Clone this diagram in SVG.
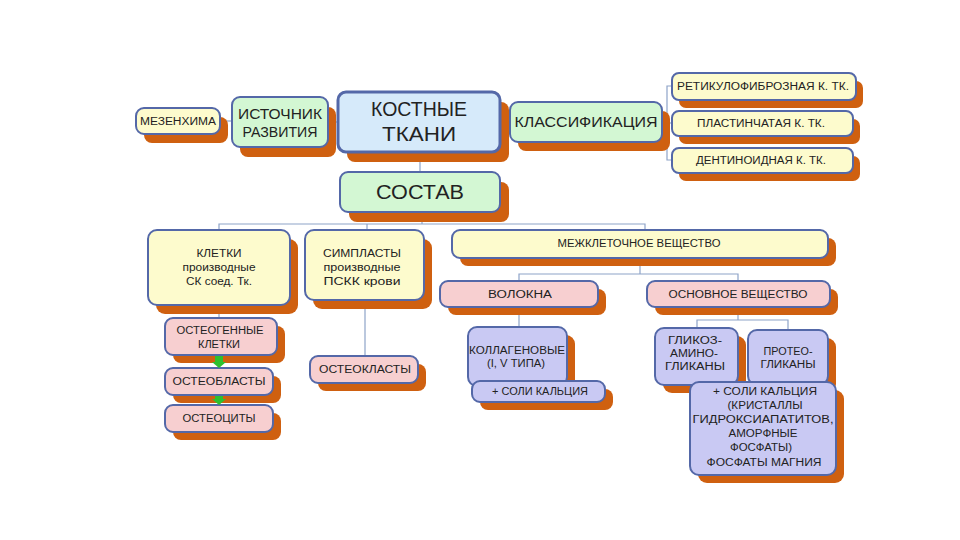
<svg xmlns="http://www.w3.org/2000/svg" width="960" height="540" viewBox="0 0 960 540">
<style>
  .sh { fill: #cf6010; }
  .bx { stroke: #5468a8; stroke-width: 2; }
  .big { stroke-width: 3; }
  .y { fill: #fdfbcd; }
  .g { fill: #d3f7d3; }
  .b { fill: #d6eafa; }
  .p { fill: #f7cfd0; }
  .l { fill: #c9c9f3; }
  text { font-family: "Liberation Sans", "DejaVu Sans", sans-serif; fill: #222; text-anchor: middle; }
  .t9 { font-size: 10px; }
  .conn line, .conn polyline { stroke: #8ea3c8; stroke-width: 1.2; fill: none; }
  .arr { fill: #2ec02e; }
</style>
<rect width="960" height="540" fill="#ffffff"/>

<g class="conn" id="connectors">
  <line x1="220" y1="121" x2="232" y2="121"/>
  <line x1="328" y1="122" x2="338" y2="122"/>
  <line x1="500" y1="122" x2="510" y2="122"/>
  <line x1="662" y1="122" x2="667" y2="122"/>
  <polyline points="672,86 667,86 667,160 672,160"/>
  <line x1="667" y1="123" x2="672" y2="123"/>
  <line x1="420" y1="152" x2="420" y2="172"/>
  <line x1="422" y1="212" x2="422" y2="224"/>
  <polyline points="219,230 219,224 645,224 645,230"/>
  <line x1="367" y1="224" x2="367" y2="230"/>
  <line x1="219" y1="305" x2="219" y2="318"/>
  <line x1="365" y1="300" x2="365" y2="356"/>
  <line x1="640" y1="258" x2="640" y2="274"/>
  <polyline points="519,281 519,274 738,274 738,281"/>
  <line x1="519" y1="307" x2="519" y2="327"/>
  <line x1="738" y1="307" x2="738" y2="320"/>
  <polyline points="697,328 697,320 788,320 788,330"/>
</g>

<g id="mezenhima">
  <rect class="sh" x="144" y="117" width="84" height="26" rx="8"/>
  <rect class="bx y" x="136" y="108" width="84" height="26" rx="8"/>
  <text class="t9" x="178" y="124.5" textLength="76" lengthAdjust="spacingAndGlyphs">МЕЗЕНХИМА</text>
</g>
<g id="istochnik">
  <rect class="sh" x="240" y="107" width="96" height="50" rx="8"/>
  <rect class="bx g" x="232" y="97" width="96" height="50" rx="8"/>
  <text x="280" y="119" font-size="14" textLength="84" lengthAdjust="spacingAndGlyphs">ИСТОЧНИК</text>
  <text x="280" y="137" font-size="14" textLength="75" lengthAdjust="spacingAndGlyphs">РАЗВИТИЯ</text>
</g>
<g id="kostnye">
  <rect class="sh" x="347" y="102" width="162" height="60" rx="8"/>
  <rect class="bx b big" x="338" y="92" width="162" height="60" rx="8"/>
  <text x="419" y="116" font-size="20" textLength="96" lengthAdjust="spacingAndGlyphs">КОСТНЫЕ</text>
  <text x="419" y="141" font-size="20" textLength="74" lengthAdjust="spacingAndGlyphs">ТКАНИ</text>
</g>
<g id="klassifikacia">
  <rect class="sh" x="518" y="111" width="152" height="40" rx="8"/>
  <rect class="bx g" x="510" y="102" width="152" height="40" rx="8"/>
  <text x="586" y="127" font-size="14" textLength="143" lengthAdjust="spacingAndGlyphs">КЛАССИФИКАЦИЯ</text>
</g>
<g id="retikulo">
  <rect class="sh" x="679" y="81" width="184" height="27" rx="7"/>
  <rect class="bx y" x="672" y="73" width="184" height="27" rx="7"/>
  <text class="t9" x="763" y="90" textLength="172" lengthAdjust="spacingAndGlyphs">РЕТИКУЛОФИБРОЗНАЯ К. ТК.</text>
</g>
<g id="plastinchataya">
  <rect class="sh" x="679" y="119" width="181" height="25" rx="7"/>
  <rect class="bx y" x="672" y="111" width="181" height="25" rx="7"/>
  <text class="t9" x="761" y="127" textLength="128" lengthAdjust="spacingAndGlyphs">ПЛАСТИНЧАТАЯ К. ТК.</text>
</g>
<g id="dentinoidnaya">
  <rect class="sh" x="679" y="156" width="181" height="25" rx="7"/>
  <rect class="bx y" x="672" y="148" width="181" height="25" rx="7"/>
  <text class="t9" x="761" y="164" textLength="130" lengthAdjust="spacingAndGlyphs">ДЕНТИНОИДНАЯ К. ТК.</text>
</g>
<g id="sostav">
  <rect class="sh" x="349" y="182" width="160" height="40" rx="8"/>
  <rect class="bx g" x="340" y="172" width="160" height="40" rx="8"/>
  <text x="420" y="199" font-size="20" textLength="88" lengthAdjust="spacingAndGlyphs">СОСТАВ</text>
</g>
<g id="kletki">
  <rect class="sh" x="156" y="239" width="142" height="75" rx="9"/>
  <rect class="bx y" x="148" y="230" width="142" height="75" rx="9"/>
  <text class="t9" x="219" y="257" textLength="45" lengthAdjust="spacingAndGlyphs">КЛЕТКИ</text>
  <text class="t9" x="219" y="271" textLength="73" lengthAdjust="spacingAndGlyphs">производные</text>
  <text class="t9" x="219" y="285" textLength="66" lengthAdjust="spacingAndGlyphs">СК соед. Тк.</text>
</g>
<g id="simplasty">
  <rect class="sh" x="313" y="239" width="119" height="70" rx="9"/>
  <rect class="bx y" x="305" y="230" width="119" height="70" rx="9"/>
  <text class="t9" x="362" y="257" textLength="78" lengthAdjust="spacingAndGlyphs">СИМПЛАСТЫ</text>
  <text class="t9" x="362" y="271" textLength="77" lengthAdjust="spacingAndGlyphs">производные</text>
  <text class="t9" x="362" y="285" textLength="77" lengthAdjust="spacingAndGlyphs">ПСКК крови</text>
</g>
<g id="mezhkletochnoe">
  <rect class="sh" x="460" y="238" width="376" height="28" rx="8"/>
  <rect class="bx y" x="452" y="230" width="376" height="28" rx="8"/>
  <text class="t9" x="639" y="247" textLength="163" lengthAdjust="spacingAndGlyphs">МЕЖКЛЕТОЧНОЕ ВЕЩЕСТВО</text>
</g>
<g id="volokna">
  <rect class="sh" x="448" y="289" width="158" height="26" rx="8"/>
  <rect class="bx p" x="440" y="281" width="158" height="26" rx="8"/>
  <text class="t9" x="520" y="298" textLength="64" lengthAdjust="spacingAndGlyphs">ВОЛОКНА</text>
</g>
<g id="osnovnoe">
  <rect class="sh" x="655" y="289" width="183" height="26" rx="8"/>
  <rect class="bx p" x="647" y="281" width="183" height="26" rx="8"/>
  <text class="t9" x="738" y="298" textLength="139" lengthAdjust="spacingAndGlyphs">ОСНОВНОЕ ВЕЩЕСТВО</text>
</g>
<g id="osteogennye">
  <rect class="sh" x="173" y="326" width="112" height="37" rx="8"/>
  <rect class="bx p" x="165" y="318" width="112" height="37" rx="8"/>
  <text class="t9" x="220" y="334" textLength="87" lengthAdjust="spacingAndGlyphs">ОСТЕОГЕННЫЕ</text>
  <text class="t9" x="219" y="348" textLength="42" lengthAdjust="spacingAndGlyphs">КЛЕТКИ</text>
</g>
<g id="osteoblasty">
  <rect class="sh" x="173" y="376" width="108" height="27" rx="8"/>
  <rect class="bx p" x="165" y="368" width="108" height="27" rx="8"/>
  <text class="t9" x="219" y="385" textLength="93" lengthAdjust="spacingAndGlyphs">ОСТЕОБЛАСТЫ</text>
</g>
<g id="osteocity">
  <rect class="sh" x="173" y="413" width="108" height="27" rx="8"/>
  <rect class="bx p" x="165" y="405" width="108" height="27" rx="8"/>
  <text class="t9" x="219" y="422" textLength="73" lengthAdjust="spacingAndGlyphs">ОСТЕОЦИТЫ</text>
</g>
<g id="osteoklasty">
  <rect class="sh" x="318" y="364" width="108" height="27" rx="8"/>
  <rect class="bx p" x="310" y="356" width="108" height="27" rx="8"/>
  <text class="t9" x="365" y="373" textLength="92" lengthAdjust="spacingAndGlyphs">ОСТЕОКЛАСТЫ</text>
</g>
<g id="kollagenovye">
  <rect class="sh" x="476" y="335" width="99" height="59" rx="9"/>
  <rect class="bx l" x="468" y="327" width="99" height="59" rx="9"/>
  <text class="t9" x="517" y="354" textLength="96" lengthAdjust="spacingAndGlyphs">КОЛЛАГЕНОВЫЕ</text>
  <text class="t9" x="516" y="367" textLength="58" lengthAdjust="spacingAndGlyphs">(I, V ТИПА)</text>
</g>
<g id="soli1">
  <rect class="sh" x="480" y="389" width="133" height="21" rx="8"/>
  <rect class="bx l" x="472" y="381" width="133" height="21" rx="8"/>
  <text class="t9" x="540" y="395" textLength="96" lengthAdjust="spacingAndGlyphs">+ СОЛИ КАЛЬЦИЯ</text>
</g>
<g id="glikozaminoglikany">
  <rect class="sh" x="663" y="336" width="83" height="57" rx="9"/>
  <rect class="bx l" x="655" y="328" width="83" height="57" rx="9"/>
  <text class="t9" x="695" y="344" textLength="54" lengthAdjust="spacingAndGlyphs">ГЛИКОЗ-</text>
  <text class="t9" x="694" y="357" textLength="48" lengthAdjust="spacingAndGlyphs">АМИНО-</text>
  <text class="t9" x="695" y="370" textLength="60" lengthAdjust="spacingAndGlyphs">ГЛИКАНЫ</text>
</g>
<g id="proteoglikany">
  <rect class="sh" x="756" y="338" width="80" height="55" rx="9"/>
  <rect class="bx l" x="748" y="330" width="80" height="55" rx="9"/>
  <text class="t9" x="788" y="355" textLength="49" lengthAdjust="spacingAndGlyphs">ПРОТЕО-</text>
  <text class="t9" x="788" y="368" textLength="55" lengthAdjust="spacingAndGlyphs">ГЛИКАНЫ</text>
</g>
<g id="soli2">
  <rect class="sh" x="698" y="390" width="146" height="93" rx="9"/>
  <rect class="bx l" x="690" y="382" width="146" height="93" rx="9"/>
  <text class="t9" x="765" y="395" textLength="104" lengthAdjust="spacingAndGlyphs">+ СОЛИ КАЛЬЦИЯ</text>
  <text class="t9" x="765" y="409" textLength="75" lengthAdjust="spacingAndGlyphs">(КРИСТАЛЛЫ</text>
  <text class="t9" x="763" y="423" textLength="141" lengthAdjust="spacingAndGlyphs">ГИДРОКСИАПАТИТОВ,</text>
  <text class="t9" x="763" y="437" textLength="69" lengthAdjust="spacingAndGlyphs">АМОРФНЫЕ</text>
  <text class="t9" x="761" y="451" textLength="62" lengthAdjust="spacingAndGlyphs">ФОСФАТЫ)</text>
  <text class="t9" x="764" y="466" textLength="115" lengthAdjust="spacingAndGlyphs">ФОСФАТЫ МАГНИЯ</text>
</g>

<g id="green-arrows">
  <rect class="arr" x="215" y="356" width="8" height="7"/>
  <polygon class="arr" points="212,362 226,362 219,368"/>
  <rect class="arr" x="215" y="396" width="8" height="4"/>
  <polygon class="arr" points="212,399 226,399 219,405"/>
</g>
</svg>
